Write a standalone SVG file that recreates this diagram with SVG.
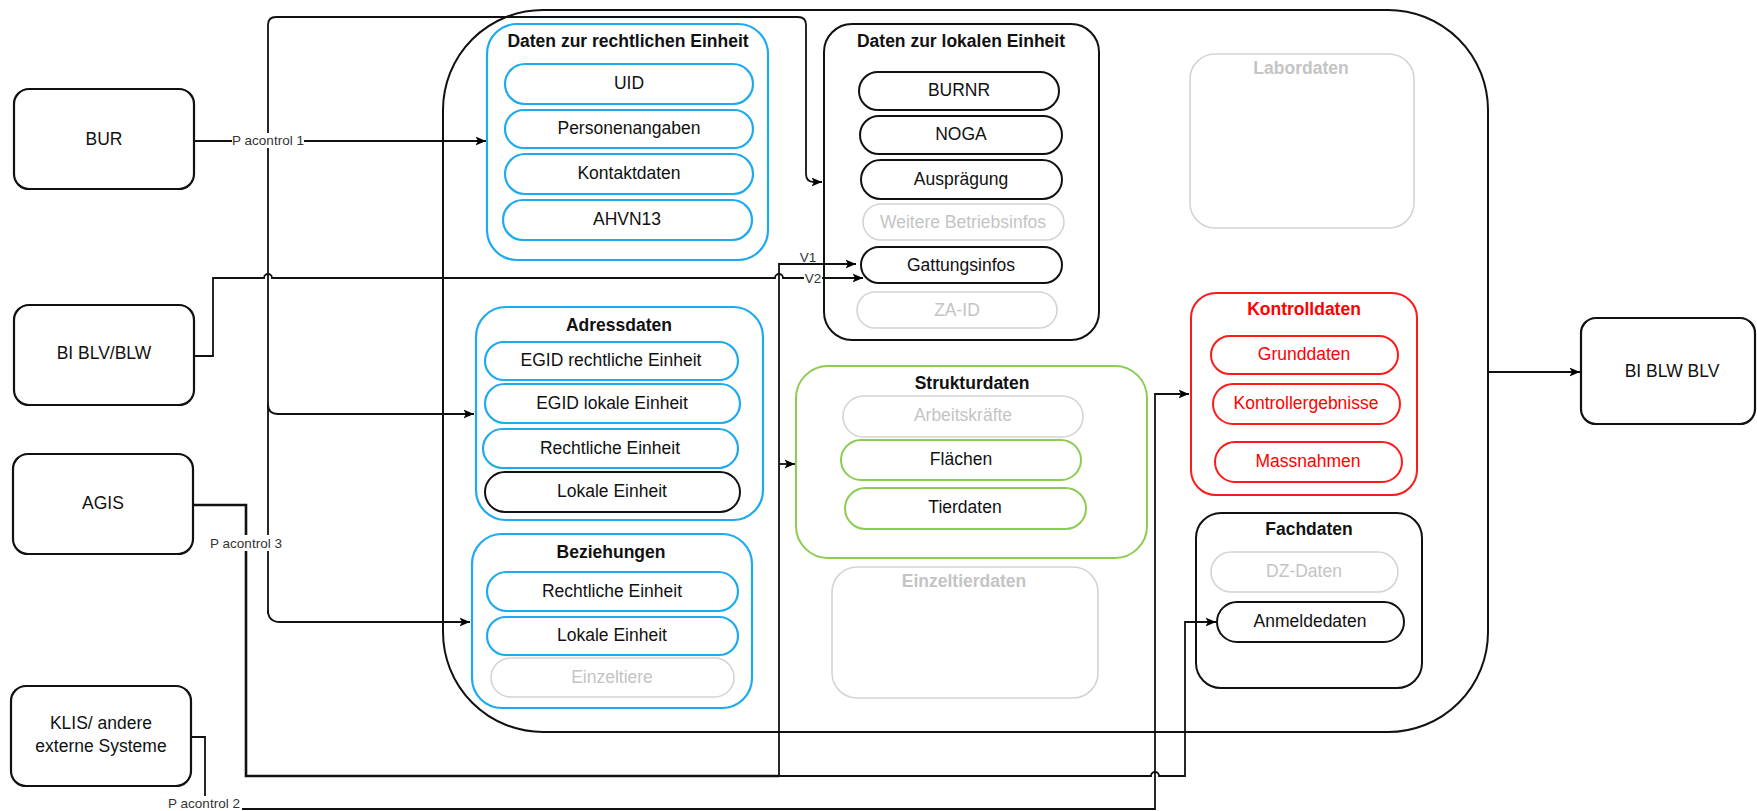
<svg xmlns="http://www.w3.org/2000/svg" width="1757" height="811" viewBox="0 0 1757 811">
<defs>
<marker id="arr" markerUnits="userSpaceOnUse" markerWidth="11" markerHeight="10" viewBox="0 0 11 10" refX="10.5" refY="5" orient="auto">
<path d="M0,0.5 L10.5,5 L0,9.5 L2.5,5 Z" fill="#000"/>
</marker>
<style>
text{font-family:"Liberation Sans",Arial,sans-serif;font-size:17.5px;text-anchor:middle;fill:#111}
.t{font-weight:bold}
.g{fill:#c4c4c4}
.r{fill:#ff0000}
.lbl{font-size:13.5px;fill:#333}
.box{fill:#fff;stroke:#111;stroke-width:2}
.ext{fill:#fff;stroke:#111;stroke-width:2.2}
.blue{fill:#fff;stroke:#1daaee;stroke-width:2.2}
.green{fill:#fff;stroke:#8dcc52;stroke-width:2}
.red{fill:#fff;stroke:#ff1a1a;stroke-width:2}
.grey{fill:#fff;stroke:#d4d4d4;stroke-width:1.6}
.pk{fill:#fff;stroke:#111;stroke-width:2}
.c{fill:none;stroke:#111;stroke-width:1.8}
.thick{fill:none;stroke:#111;stroke-width:2.6}
.bg{fill:#fff}
</style>
</defs>

<g id="container">
<rect x="443" y="10" width="1045" height="722" rx="100" ry="100" class="box"/>
</g>

<g id="bur"><rect x="14" y="89" width="180" height="100" rx="15" class="ext"/><text x="104" y="145">BUR</text></g>
<g id="bi-blv-blw"><rect x="14" y="305" width="180" height="100" rx="15" class="ext"/><text x="104" y="359">BI BLV/BLW</text></g>
<g id="agis"><rect x="13" y="454" width="180" height="100" rx="15" class="ext"/><text x="103" y="509">AGIS</text></g>
<g id="klis"><rect x="11" y="686" width="180" height="100" rx="15" class="ext"/><text x="101" y="729">KLIS/ andere</text><text x="101" y="752">externe Systeme</text></g>
<g id="bi-blw-blv"><rect x="1581" y="318" width="174" height="106" rx="15" class="ext"/><text x="1672" y="377">BI BLW BLV</text></g>

<g id="rechtliche-einheit">
<rect x="487" y="24" width="281" height="236" rx="30" class="blue"/>
<text class="t" x="628" y="47">Daten zur rechtlichen Einheit</text>
<rect x="505" y="64" width="248" height="40" rx="20" class="blue"/><text x="629" y="89">UID</text>
<rect x="505" y="110" width="248" height="38" rx="19" class="blue"/><text x="629" y="134">Personenangaben</text>
<rect x="505" y="154" width="248" height="40" rx="20" class="blue"/><text x="629" y="179">Kontaktdaten</text>
<rect x="503" y="200" width="249" height="40" rx="20" class="blue"/><text x="627" y="225">AHVN13</text>
</g>

<g id="lokale-einheit">
<rect x="824" y="24" width="275" height="316" rx="28" class="box"/>
<text class="t" x="961" y="47">Daten zur lokalen Einheit</text>
<rect x="859" y="72" width="200" height="38" rx="19" class="pk"/><text x="959" y="96">BURNR</text>
<rect x="860" y="116" width="202" height="38" rx="19" class="pk"/><text x="961" y="140">NOGA</text>
<rect x="861" y="160" width="201" height="39" rx="19.5" class="pk"/><text x="961" y="185">Ausprägung</text>
<rect x="863" y="204" width="201" height="36" rx="18" class="grey"/><text class="g" x="963" y="228">Weitere Betriebsinfos</text>
<rect x="861" y="247" width="201" height="36" rx="18" class="pk"/><text x="961" y="271">Gattungsinfos</text>
<rect x="857" y="292" width="200" height="36" rx="18" class="grey"/><text class="g" x="957" y="316">ZA-ID</text>
</g>

<g id="labordaten">
<rect x="1190" y="54" width="224" height="174" rx="25" class="grey"/>
<text class="t g" x="1301" y="74">Labordaten</text>
</g>

<g id="kontrolldaten">
<rect x="1191" y="293" width="226" height="202" rx="25" class="red"/>
<text class="t r" x="1304" y="315">Kontrolldaten</text>
<rect x="1211" y="336" width="187" height="38" rx="19" class="red"/><text class="r" x="1304" y="360">Grunddaten</text>
<rect x="1213" y="384" width="187" height="40" rx="20" class="red"/><text class="r" x="1306" y="409">Kontrollergebnisse</text>
<rect x="1215" y="442" width="187" height="40" rx="20" class="red"/><text class="r" x="1308" y="467">Massnahmen</text>
</g>

<g id="fachdaten">
<rect x="1196" y="513" width="226" height="175" rx="25" class="box"/>
<text class="t" x="1309" y="535">Fachdaten</text>
<rect x="1211" y="552" width="187" height="40" rx="20" class="grey"/><text class="g" x="1304" y="577">DZ-Daten</text>
<rect x="1217" y="602" width="187" height="40" rx="20" class="pk"/><text x="1310" y="627">Anmeldedaten</text>
</g>

<g id="strukturdaten">
<rect x="796" y="366" width="351" height="192" rx="32" class="green"/>
<text class="t" x="972" y="389">Strukturdaten</text>
<rect x="843" y="396" width="240" height="41" rx="20.5" class="grey"/><text class="g" x="963" y="421">Arbeitskräfte</text>
<rect x="841" y="440" width="240" height="40" rx="20" class="green"/><text x="961" y="465">Flächen</text>
<rect x="845" y="488" width="241" height="41" rx="20.5" class="green"/><text x="965" y="513">Tierdaten</text>
</g>

<g id="einzeltierdaten">
<rect x="832" y="567" width="266" height="131" rx="25" class="grey"/>
<text class="t g" x="964" y="587">Einzeltierdaten</text>
</g>

<g id="adressdaten">
<rect x="476" y="307" width="287" height="213" rx="30" class="blue"/>
<text class="t" x="619" y="331">Adressdaten</text>
<rect x="485" y="342" width="253" height="38" rx="19" class="blue"/><text x="611" y="366">EGID rechtliche Einheit</text>
<rect x="485" y="384" width="255" height="39" rx="19.5" class="blue"/><text x="612" y="409">EGID lokale Einheit</text>
<rect x="483" y="429" width="255" height="39" rx="19.5" class="blue"/><text x="610" y="454">Rechtliche Einheit</text>
<rect x="485" y="472" width="255" height="40" rx="20" class="pk"/><text x="612" y="497">Lokale Einheit</text>
</g>

<g id="beziehungen">
<rect x="472" y="534" width="280" height="174" rx="30" class="blue"/>
<text class="t" x="611" y="558">Beziehungen</text>
<rect x="487" y="572" width="251" height="39" rx="19.5" class="blue"/><text x="612" y="597">Rechtliche Einheit</text>
<rect x="487" y="617" width="251" height="38" rx="19" class="blue"/><text x="612" y="641">Lokale Einheit</text>
<rect x="491" y="658" width="243" height="39" rx="19.5" class="grey"/><text class="g" x="612" y="683">Einzeltiere</text>
</g>

<g id="connectors">
<path class="c" d="M194,141 L486,141" marker-end="url(#arr)"/>
<path class="c" d="M268,614 L268,25 Q268,17 276,17 L798,17 Q806,17 806,25 L806,174 Q806,182 814,182 L822,182" marker-end="url(#arr)"/>
<path class="c" d="M268,404 Q268,414 278,414 L474,414" marker-end="url(#arr)"/>
<path class="c" d="M268,610 Q268,622 280,622 L470,622" marker-end="url(#arr)"/>
<path class="c" d="M194,356 L213,356 L213,278 L264,278 A4,4 0 0 1 272,278 L775,278 A4,4 0 0 1 783,278 L863,278" marker-end="url(#arr)"/>
<path class="thick" d="M193,505 L246,505 L246,776 L779,776"/>
<path class="c" d="M779,776 L779,264 L856,264" marker-end="url(#arr)"/>
<path class="c" d="M779,464 L795,464" marker-end="url(#arr)"/>
<path class="c" d="M779,776 L1151,776 A4,4 0 0 1 1159,776 L1185,776 L1185,622 L1216,622" marker-end="url(#arr)"/>
<path class="c" d="M191,737 L205,737 L205,809 L1155,809 L1155,394 L1189,394" marker-end="url(#arr)"/>
<path class="c" d="M1488,372 L1580,372" marker-end="url(#arr)"/>
<rect class="bg" x="232" y="133" width="72" height="15"/>
<text class="lbl" x="268" y="145">P acontrol 1</text>
<rect class="bg" x="208" y="535" width="76" height="16"/>
<text class="lbl" x="246" y="548">P acontrol 3</text>
<rect class="bg" x="166" y="796" width="76" height="16"/>
<text class="lbl" x="204" y="808">P acontrol 2</text>
<text class="lbl" x="808" y="262">V1</text>
<rect class="bg" x="804" y="271" width="18" height="14"/>
<text class="lbl" x="813" y="283">V2</text>
</g>
</svg>
